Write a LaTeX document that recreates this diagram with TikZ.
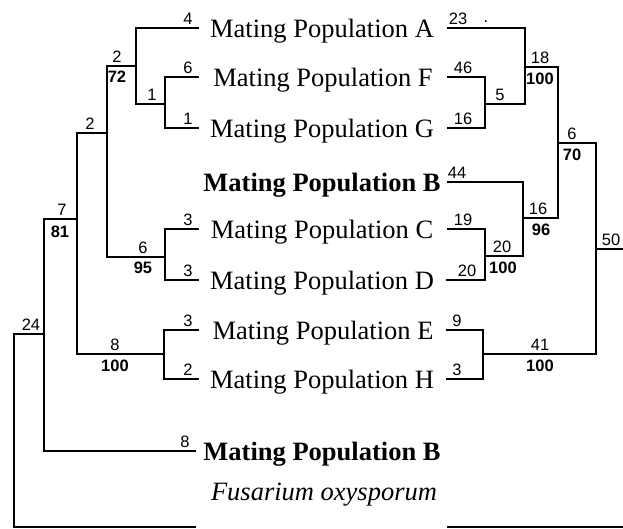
\documentclass[tikz,border=0pt]{standalone}
\usepackage{fontspec}
\setmainfont{Liberation Serif}
\newfontfamily\numfont{Liberation Sans}
\begin{document}
\begin{tikzpicture}[x=1pt,y=-1pt,
  br/.style={line width=1.8pt, line cap=rect},
  taxon/.style={anchor=base, font=\fontsize{26.5}{30}\selectfont, inner sep=0pt},
  taxonb/.style={taxon, font=\bfseries\fontsize{26.5}{30}\selectfont},
  taxoni/.style={taxon, font=\itshape\fontsize{26.5}{30}\selectfont},
  up/.style={anchor=base, font=\numfont\fontsize{16.5}{18}\selectfont, inner sep=0pt},
  dn/.style={anchor=north, font=\numfont\bfseries\fontsize{16.5}{18}\selectfont, inner sep=0pt}]
\useasboundingbox (0,0) rectangle (623,528);

% row texts
\node[taxon]  (tA)  at (322,37)  {Mating Population A};
\node[taxon]  (tF)  at (323,86)  {Mating Population F};
\node[taxon]  (tG)  at (322,137) {Mating Population G};
\node[taxonb] (tB)  at (322,191) {Mating Population B};
\node[taxon]  (tC)  at (322,238) {Mating Population C};
\node[taxon]  (tD)  at (322,289) {Mating Population D};
\node[taxon]  (tE)  at (323,339) {Mating Population E};
\node[taxon]  (tH)  at (322,388) {Mating Population H};
\node[taxonb] (tB2) at (322,460) {Mating Population B};
\node[taxoni] (tFu) at (324,500) {Fusarium oxysporum};

% left tree coordinates
\coordinate (lA)  at (198,28);
\coordinate (lF)  at (198,77);
\coordinate (lG)  at (198,128);
\coordinate (lC)  at (198,229);
\coordinate (lD)  at (198,280);
\coordinate (lE)  at (198,330);
\coordinate (lH)  at (198,379);
\coordinate (lB2) at (195,451);
\coordinate (lFu) at (195,527);
\coordinate (nFG)  at (165,104);
\coordinate (nAFG) at (136,66);
\coordinate (nCD)  at (165,257);
\coordinate (nACD) at (107,133);
\coordinate (nEH)  at (164,354);
\coordinate (nX)   at (77,219);
\coordinate (nY)   at (44,334);
\coordinate (nR)   at (14,334);

\draw[br] (lF) -| (nFG) |- (lG);
\draw[br] (lA) -| (nAFG) |- (nFG);
\draw[br] (lC) -| (nCD) |- (lD);
\draw[br] (nAFG) -| (nACD) |- (nCD);
\draw[br] (lE) -| (nEH) |- (lH);
\draw[br] (nACD) -| (nX) |- (nEH);
\draw[br] (nX) -| (nY) |- (lB2);
\draw[br] (nY) -- (nR) |- (lFu);

% right tree coordinates
\coordinate (rA)  at (448,28);
\coordinate (rF)  at (448,77);
\coordinate (rG)  at (448,128);
\coordinate (rB)  at (448,182);
\coordinate (rC)  at (448,229);
\coordinate (rD)  at (447,280);
\coordinate (rE)  at (447,330);
\coordinate (rH)  at (447,379);
\coordinate (rFu) at (447,527);
\coordinate (eFu) at (623,527);
\coordinate (mFG)  at (485,104);
\coordinate (mAFG) at (525,67);
\coordinate (mCD)  at (485,256);
\coordinate (mBCD) at (523,218);
\coordinate (mTop) at (558,143);
\coordinate (mEH)  at (483,354);
\coordinate (mRt)  at (596,249);
\coordinate (eRt)  at (623,249);

\draw[br] (rF) -| (mFG) |- (rG);
\draw[br] (rA) -| (mAFG) |- (mFG);
\draw[br] (rC) -| (mCD) |- (rD);
\draw[br] (rB) -| (mBCD) |- (mCD);
\draw[br] (mAFG) -| (mTop) |- (mBCD);
\draw[br] (rE) -| (mEH) |- (rH);
\draw[br] (mTop) -| (mRt) |- (mEH);
\draw[line width=1.8pt] (mRt) -- (eRt);
\draw[line width=1.8pt] (rFu) -- (eFu);

% left labels
\node[up] (a1)  at (188,24)  {4};
\node[up] (a2)  at (188,73)  {6};
\node[up] (a3)  at (188,124) {1};
\node[up] (a4)  at (152,100) {1};
\node[up] (a5)  at (117,62)  {2};
\node[dn] (a6)  at (117,71)  {72};
\node[up] (a7)  at (90,129)  {2};
\node[up] (a8)  at (188,225) {3};
\node[up] (a9)  at (188,276) {3};
\node[up] (a10) at (143,253) {6};
\node[dn] (a11) at (143,262) {95};
\node[up] (a12) at (188,326) {3};
\node[up] (a13) at (188,375) {2};
\node[up] (a14) at (115,350) {8};
\node[dn] (a15) at (115,360) {100};
\node[up] (a16) at (62,215)  {7};
\node[dn] (a17) at (60,226)  {81};
\node[up] (a18) at (185,447) {8};
\node[up] (a19) at (31,330)  {24};

% right labels
\node[up] (b1)  at (458,24)  {23};
\node[up] (b1d) at (486,22)  {.};
\node[up] (b2)  at (463,73)  {46};
\node[up] (b3)  at (463,124) {16};
\node[up] (b4)  at (500,100) {5};
\node[up] (b5)  at (540,63)  {18};
\node[dn] (b6)  at (540,73)  {100};
\node[up] (b7)  at (457,178) {44};
\node[up] (b8)  at (463,225) {19};
\node[up] (b9)  at (467,276) {20};
\node[up] (b10) at (502,252) {20};
\node[dn] (b11) at (503,262) {100};
\node[up] (b12) at (538,214) {16};
\node[dn] (b13) at (541,224) {96};
\node[up] (b14) at (572,139) {6};
\node[dn] (b15) at (572,149) {70};
\node[up] (b16) at (611,245) {50};
\node[up] (b17) at (457,326) {9};
\node[up] (b18) at (457,375) {3};
\node[up] (b19) at (540,350) {41};
\node[dn] (b20) at (540,360) {100};
\end{tikzpicture}
\end{document}
